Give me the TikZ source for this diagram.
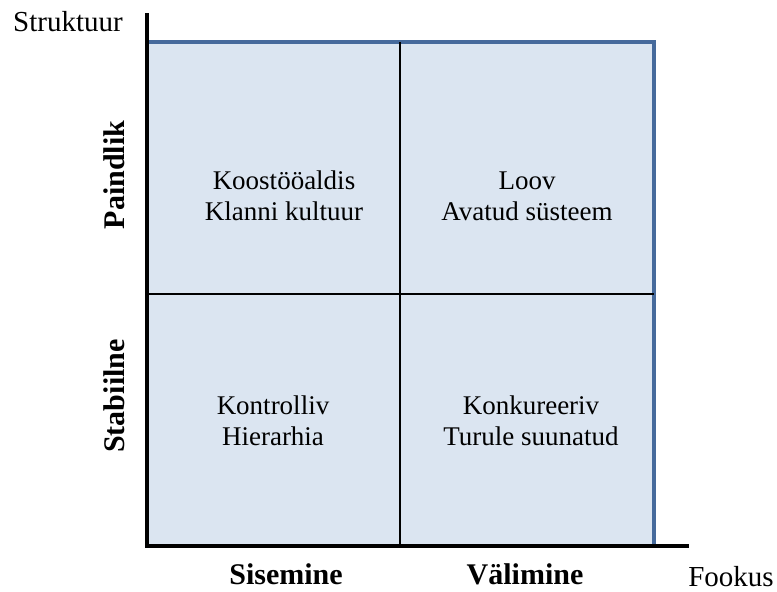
\documentclass[tikz,border=0pt]{standalone}
\usepackage{fontspec}
\setmainfont{Liberation Serif}
\definecolor{cellfill}{RGB}{219,229,241}
\definecolor{cellline}{RGB}{70,106,156}
\begin{document}
\begin{tikzpicture}[x=1pt,y=-1pt,
  celltext/.style={align=center, font=\fontsize{27}{31}\selectfont},
  axistext/.style={inner sep=0pt, font=\fontsize{30}{34}\selectfont\bfseries},
  plaintext/.style={inner sep=1pt, font=\fontsize{29}{33}\selectfont}]
\useasboundingbox (0,0) rectangle (777,592);
\coordinate (bl) at (148,546);
\coordinate (tl) at (148,42);
\coordinate (tr) at (654,42);
\coordinate (br) at (654,546);
\fill[cellfill] (bl) rectangle (tr);
\draw[cellline, line width=3.5pt] (tl) -- (tr) -- (br);
\coordinate (mt) at (400,42);
\coordinate (mb) at (400,546);
\coordinate (ml) at (148,294);
\coordinate (mr) at (654,294);
\draw[line width=2pt] (mt) -- (mb);
\draw[line width=2pt] (ml) -- (mr);
\coordinate (ytop) at (147,13);
\coordinate (xend) at (689,546);
\coordinate (orig) at (147,548);
\draw[line width=4.5pt] (ytop) -- (orig);
\draw[line width=4.5pt] (orig |- xend) -- (xend);
\node[celltext] (q1) at (284,196) {Koostööaldis\\Klanni kultuur};
\node[celltext] (q2) at (527,196) {Loov\\Avatud süsteem};
\node[celltext] (q3) at (273,421) {Kontrolliv\\Hierarhia};
\node[celltext] (q4) at (531,421) {Konkureeriv\\Turule suunatud};
\node[plaintext] (struk) at (68,22) {Struktuur};
\node[plaintext] (fook) at (731,577) {Fookus};
\node[axistext, anchor=base] (sis) at (286,584) {Sisemine};
\node[axistext, anchor=base] (val) at (525,584) {Välimine};
\node[axistext, rotate=90] (pai) at (114,175) {Paindlik};
\node[axistext, rotate=90] (sta) at (114,396) {Stabiilne};
\end{tikzpicture}
\end{document}
